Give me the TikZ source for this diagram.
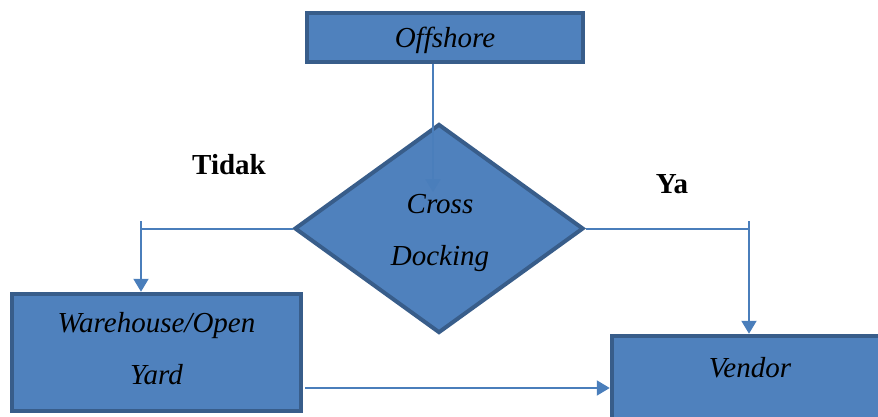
\documentclass[tikz,border=0pt]{standalone}
\usepackage{fontspec}
\setmainfont{Liberation Serif}
\usetikzlibrary{shapes.geometric,arrows.meta,calc}

\definecolor{boxfill}{HTML}{4F81BD}
\definecolor{boxline}{HTML}{385D8A}
\definecolor{connline}{HTML}{4A7EBB}

\tikzset{
  box/.style={rectangle, draw=boxline, fill=boxfill, line width=4.5pt, inner sep=0pt},
  decision/.style={diamond, draw=boxline, fill=boxfill, line width=4pt, inner sep=0pt},
  txt/.style={font=\fontsize{29}{52}\selectfont\itshape, align=center, inner sep=0pt},
  tag/.style={font=\fontsize{29}{35}\selectfont\bfseries, inner sep=0pt},
  conn/.style={draw=connline, line width=2pt},
  flow/.style={conn, -{Triangle[length=13pt,width=15pt]}}
}

\begin{document}
\begin{tikzpicture}[x=1pt,y=-1pt]
  \useasboundingbox (0,0) rectangle (878,416);
  \clip (0,0) rectangle (878,416);

  % process boxes and the decision
  \node[box, minimum width=276pt, minimum height=49pt] (off) at (445,37.5) {};
  \node[txt] (offtxt) at ($(off)+(0,3)$) {Offshore};

  \node[decision, minimum width=289pt, minimum height=209pt] (cd) at (439,228.5) {};
  \node[txt] (cdtxt) at (440,233) {Cross\\Docking};

  \node[box, minimum width=289pt, minimum height=117pt] (wh) at (156.5,352.5) {};
  \node[txt] (whtxt) at ($(wh)+(0,-4)$) {Warehouse/Open\\Yard};

  \node[box, minimum width=280pt, minimum height=124pt] (vd) at (752,398) {};
  \node[txt] (vdtxt) at (750,368) {Vendor};

  % branch labels
  \node[tag] (no) at (229,165) {Tidak};
  \node[tag] (yes) at (672,184) {Ya};

  % connector bends
  \coordinate (t1) at (433,192);
  \coordinate (lk) at (141,221);
  \coordinate (rk) at (749,221);
  \coordinate (bt) at (0,388);

  % connectors
  \draw[flow] (off.south -| t1) -- (t1);
  \draw[conn] (cd.west) -- (cd.west -| lk);
  \draw[flow] (lk) -- (lk |- wh.north);
  \draw[conn] (cd.east) -- (cd.east -| rk);
  \draw[flow] (rk) -- (rk |- vd.north);
  \draw[flow] ($(wh.east |- bt)+(2,0)$) -- (vd.west |- bt);
\end{tikzpicture}
\end{document}
